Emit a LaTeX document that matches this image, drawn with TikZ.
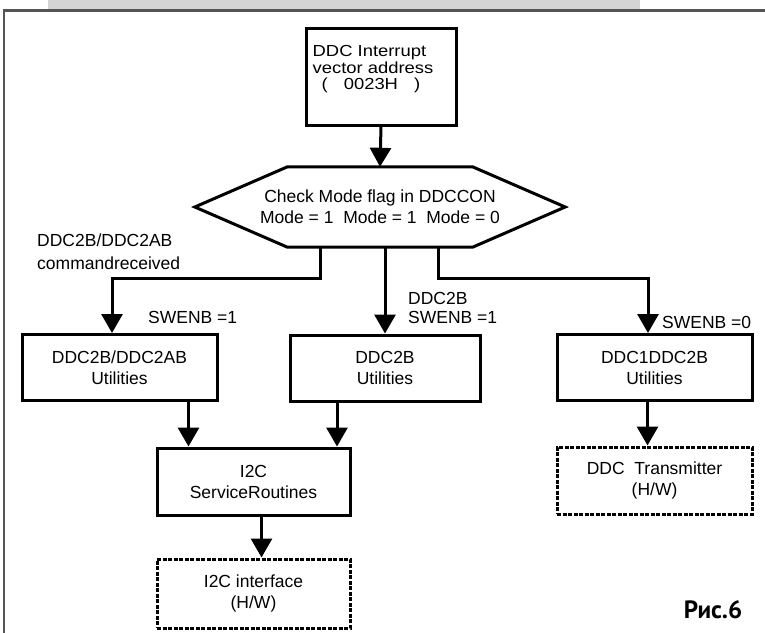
\documentclass[tikz,border=0pt]{standalone}
\usepackage{fontspec}
\setmainfont{Liberation Sans}
\newfontfamily\widefont[FakeStretch=1.15]{Liberation Sans}
\newfontfamily\ptfont{PT Sans}
\usetikzlibrary{arrows.meta,calc,positioning}
\definecolor{frame}{RGB}{85,85,85}
\definecolor{bar}{RGB}{212,212,212}
\tikzset{
  blk/.style={draw,line width=3pt,minimum width=195pt,minimum height=66pt,align=center,inner sep=0pt},
  hwblk/.style={blk,dash pattern=on 4pt off 1.5pt},
  flow/.style={line width=3pt,-{Triangle[length=19pt,width=21pt]}},
  lbl/.style={anchor=west,align=left,inner sep=0pt},
}

\begin{document}
\begin{tikzpicture}[x=1pt,y=-1pt,font=\fontsize{17.5}{21}\selectfont]
  \useasboundingbox (0,0) rectangle (765,632);
  % page frame
  \fill[bar] (48,0) rectangle (640,9);
  \draw[frame,line width=2.5pt] (4,640) -- (4,10.5) -- (775,10.5);

  \node[draw,line width=3pt,minimum width=150pt,minimum height=97pt] (vec) at (381,76.5) {};
  \node[lbl,anchor=north west,font=\widefont\fontsize{16}{16.5}\selectfont,below right=19pt and 8pt of vec.north west] (vectxt)
    {DDC Interrupt\\vector address\\\hspace*{9pt}(\quad 0023H\quad)};

  \node[inner sep=0pt,minimum width=370pt,minimum height=80pt,align=center] (hex) at (380,207)
    {Check Mode flag in DDCCON\\Mode = 1\ \ Mode = 1\ \ Mode = 0};
  \draw[line width=3pt,line join=miter] (hex.west) -- ($(hex.north west)!.25!(hex.north east)$)
    -- ($(hex.north west)!.75!(hex.north east)$) -- (hex.east)
    -- ($(hex.south west)!.75!(hex.south east)$) -- ($(hex.south west)!.25!(hex.south east)$) -- cycle;

  \node[blk] (u1) at (119.5,367.5) {DDC2B/DDC2AB\\Utilities};
  \node[blk,minimum width=190pt] (u2) at (385,368) {DDC2B\\Utilities};
  \node[blk] (u3) at (654.5,367.5) {DDC1DDC2B\\Utilities};

  \node[blk,minimum width=193pt,minimum height=67pt] (svc) at (253.5,481.5) {I2C\\ServiceRoutines};
  \node[hwblk,minimum width=193pt,minimum height=69pt] (i2chw) at (253.5,593.5) {I2C interface\\(H/W)};
  \node[hwblk,minimum height=67pt] (ddchw) at (654.5,480.5) {DDC\ \ Transmitter\\(H/W)};

  \node[lbl,font=\fontsize{17.5}{23}\selectfont] (cmd) at (37,251.5) {DDC2B/DDC2AB\\commandreceived};
  \node[lbl] (sw1) at (148,317) {SWENB =1};
  \node[lbl,font=\fontsize{17.5}{19}\selectfont] (sw2) at (408,307.5) {DDC2B\\SWENB =1};
  \node[lbl] (sw0) at (662,322) {SWENB =0};

  \node[font=\ptfont\bfseries\fontsize{25}{25}\selectfont] (fig) at (713,610) {Рис.6};

  % connectors
  \coordinate (jl) at (112,278);
  \coordinate (jr) at (648,278);
  \coordinate (in1) at ([xshift=-65pt]svc.north);
  \coordinate (in2) at ([xshift=83.5pt]svc.north);
  \draw[flow] (vec.south) -- (hex.north);
  \draw[flow,rounded corners=0pt] ([xshift=-60pt]hex.south) |- (jl) -- (u1.north -| jl);
  \draw[flow] (hex.south -| u2.north) -- (u2.north);
  \draw[flow] ([xshift=58pt]hex.south) |- (jr) -- (u3.north -| jr);
  \draw[flow] (u1.south -| in1) -- (in1);
  \draw[flow] (u2.south -| in2) -- (in2);
  \draw[flow] ([xshift=8pt]svc.south) -- ([xshift=8pt]i2chw.north);
  \draw[flow] ([xshift=-7pt]u3.south) -- ([xshift=-7pt]ddchw.north);
\end{tikzpicture}
\end{document}
